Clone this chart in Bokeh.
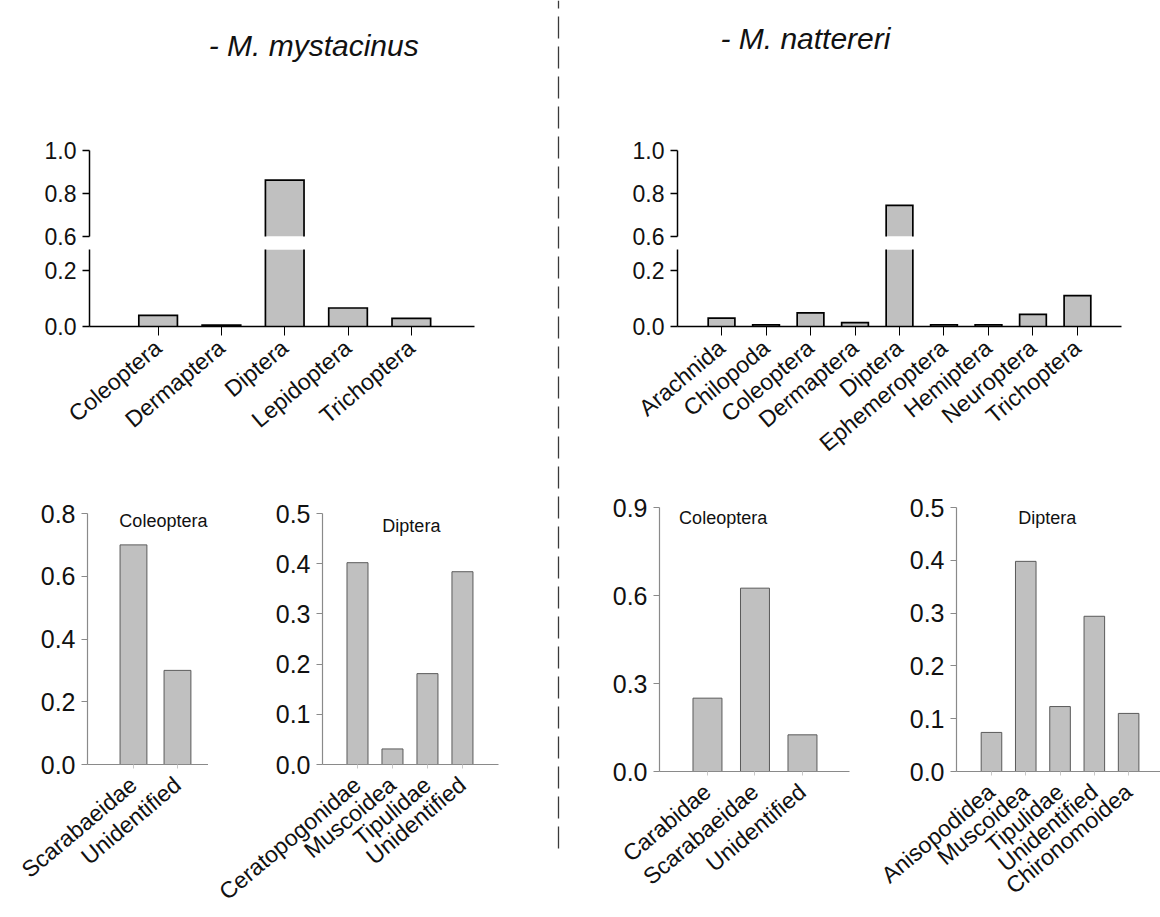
import math
from bokeh.plotting import figure
from bokeh.layouts import row, column
from bokeh.models import Range1d, FixedTicker, Label, ColumnDataSource, NumeralTickFormatter
from bokeh.embed import file_html
from bokeh.resources import INLINE

# ---------------- data ----------------
species = ["- M. mystacinus", "- M. nattereri"]

mm_orders = ["Coleoptera", "Dermaptera", "Diptera", "Lepidoptera", "Trichoptera"]
mm_order_vals = [0.040, 0.005, 0.862, 0.066, 0.029]

mn_orders = ["Arachnida", "Chilopoda", "Coleoptera", "Dermaptera", "Diptera",
             "Ephemeroptera", "Hemiptera", "Neuroptera", "Trichoptera"]
mn_order_vals = [0.030, 0.006, 0.049, 0.014, 0.745, 0.006, 0.006, 0.043, 0.110]

mm_col_fam = ["Scarabaeidae", "Unidentified"]
mm_col_vals = [0.70, 0.30]
mm_dip_fam = ["Ceratopogonidae", "Muscoidea", "Tipulidae", "Unidentified"]
mm_dip_vals = [0.402, 0.031, 0.181, 0.384]

mn_col_fam = ["Carabidae", "Scarabaeidae", "Unidentified"]
mn_col_vals = [0.250, 0.625, 0.125]
mn_dip_fam = ["Anisopodidea", "Muscoidea", "Tipulidae", "Unidentified", "Chironomoidea"]
mn_dip_vals = [0.074, 0.398, 0.123, 0.294, 0.110]

sub_titles = ["Coleoptera", "Diptera"]

upper_ticks = [0.6, 0.8, 1.0]
lower_ticks = [0.0, 0.2]
col_l_ticks = [0.0, 0.2, 0.4, 0.6, 0.8]
dip_ticks = [0.0, 0.1, 0.2, 0.3, 0.4, 0.5]
col_r_ticks = [0.0, 0.3, 0.6, 0.9]

# ---------------- style ----------------
FONT = "Liberation Sans"
FILL = "#c0c0c0"
ROT = math.radians(40)
UP_LO, UP_HI = 0.6, 1.0      # upper segment of the broken axis
LO_HI = 0.275                # top of the lower segment


def base(w, h, xr, yr, bl, br, bt, bb, xloc="below", yloc="left"):
    p = figure(width=w, height=h, x_range=xr, y_range=yr,
               x_axis_location=xloc, y_axis_location=yloc,
               output_backend="svg", toolbar_location=None,
               min_border_left=bl, min_border_right=br,
               min_border_top=bt, min_border_bottom=bb)
    p.outline_line_color = None
    p.xgrid.visible = False
    p.ygrid.visible = False
    p.background_fill_color = "white"
    p.border_fill_color = "white"
    return p


def style_y(ax, ticks, color, size, lw):
    ax.ticker = FixedTicker(ticks=ticks)
    ax.formatter = NumeralTickFormatter(format="0.0")
    ax.axis_line_color = color
    ax.axis_line_width = lw
    ax.major_tick_line_color = color
    ax.major_tick_line_width = lw
    ax.major_tick_out = 7
    ax.major_tick_in = 0
    ax.minor_tick_line_color = None
    ax.major_label_text_font = FONT
    ax.major_label_text_font_size = size
    ax.major_label_text_color = "#111111"
    ax.major_label_standoff = 6


def style_x(ax, cats, color, size, lw, tick_out, tick_color, standoff):
    ax.ticker = FixedTicker(ticks=list(range(len(cats))))
    ax.major_label_overrides = {i: c for i, c in enumerate(cats)}
    ax.major_label_orientation = ROT
    ax.axis_line_color = color
    ax.axis_line_width = lw
    ax.major_tick_line_color = tick_color
    ax.major_tick_line_width = 1
    ax.major_tick_out = tick_out
    ax.major_tick_in = 0
    ax.minor_tick_line_color = None
    ax.major_label_text_font = FONT
    ax.major_label_text_font_size = size
    ax.major_label_text_color = "#111111"
    ax.major_label_standoff = standoff


def open_bars(p, xs, vals, bw, line_color, lw):
    """Bar fill plus an outline made of the two sides and the top only."""
    p.vbar(x=xs, top=vals, width=bw, fill_color=FILL, line_color=None)
    px = [[x - bw / 2, x - bw / 2, x + bw / 2, x + bw / 2] for x in xs]
    py = [[0, v, v, 0] for v in vals]
    p.multi_line(xs=px, ys=py, line_color=line_color, line_width=lw,
                 line_join="miter")


def order_panel(cats, vals, w, bl, br, xs, xe, bw):
    idx = list(range(len(cats)))
    xr = Range1d(xs, xe)
    up = base(w, 149, xr, Range1d(UP_LO, UP_HI), bl, br, 50, 13, xloc=None)
    hi = [(i, v) for i, v in zip(idx, vals) if v > UP_LO]
    open_bars(up, [i for i, _ in hi], [v for _, v in hi], bw, "black", 1.7)
    style_y(up.yaxis[0], upper_ticks, "black", "23px", 1.5)

    lo = base(w, 236, xr, Range1d(0.0, LO_HI), bl, br, 0, 159)
    open_bars(lo, idx, vals, bw, "black", 1.7)
    style_y(lo.yaxis[0], lower_ticks, "black", "23px", 1.5)
    style_x(lo.xaxis[0], cats, "black", "23px", 1.5, 9, "black", 9)
    return up, lo


def family_panel(cats, vals, w, bl, br, bt, bb, xs, xe, ymax, ticks, bw,
                 sub, sx, sy):
    src = ColumnDataSource(dict(x=list(range(len(cats))), top=vals))
    p = base(w, 432, Range1d(xs, xe), Range1d(0.0, ymax), bl, br, bt, bb)
    p.vbar(x="x", top="top", width=bw, source=src, fill_color=FILL,
           line_color="#5a5a5a", line_width=1)
    style_y(p.yaxis[0], ticks, "#8a8a8a", "25px", 1.2)
    p.yaxis[0].major_tick_out = 6
    style_x(p.xaxis[0], cats, "#8a8a8a", "23px", 1.2, 4, "#c8c8c8", 13)
    p.add_layout(Label(x=sx, y=sy, text=sub, text_font=FONT,
                       text_font_size="18px", text_color="#111111",
                       text_align="center", text_baseline="middle"))
    return p


def title_fig(w, text, tx, ty):
    p = base(w, 100, Range1d(0, w), Range1d(0, 100), 0, 0, 0, 0, xloc=None, yloc=None)
    p.add_layout(Label(x=tx, y=ty, text=text, text_font=FONT,
                       text_font_size="30px", text_font_style="italic",
                       text_color="#111111", text_align="center",
                       text_baseline="middle"))
    return p


# ---------------- left half ----------------
t_l = title_fig(553, species[0], 322, 55)
up_l, lo_l = order_panel(mm_orders, mm_order_vals, 553, 89, 79, -1.084, 4.998, 0.61)
col_l = family_panel(mm_col_fam, mm_col_vals, 208, 87, 0, 28, 152,
                     -1.045, 1.705, 0.8, col_l_ticks, 0.61, sub_titles[0], 0.68, 0.775)
dip_l = family_panel(mm_dip_fam, mm_dip_vals, 345, 114, 55, 15, 152,
                     -1.0, 4.03, 0.5, dip_ticks, 0.6, sub_titles[1], 1.54, 0.475)
left = column(t_l, up_l, lo_l, row(col_l, dip_l))

# ---------------- divider ----------------
div = base(10, 917, Range1d(0, 10), Range1d(0, 917), 0, 0, 0, 0, xloc=None, yloc=None)
div.segment(x0=[5], y0=[69], x1=[5], y1=[917], line_color="#3a3a3a",
            line_width=1.3, line_dash="22 8")

# ---------------- right half ----------------
t_r = title_fig(597, species[1], 172, 62)
up_r, lo_r = order_panel(mn_orders, mn_order_vals, 597, 114, 39, -0.99, 8.99, 0.6)
col_r = family_panel(mn_col_fam, mn_col_vals, 297, 96, 11, 22, 146,
                     -1.01, 2.99, 0.9, col_r_ticks, 0.61, sub_titles[0], 0.33, 0.865)
dip_r = family_panel(mn_dip_fam, mn_dip_vals, 300, 96, 0, 18, 139,
                     -1.02, 4.93, 0.5, dip_ticks, 0.6, sub_titles[1], 1.63, 0.48)
right = column(t_r, up_r, lo_r, row(col_r, dip_r))

root = row(left, div, right)

open("out.html", "w").write(file_html(root, INLINE))
